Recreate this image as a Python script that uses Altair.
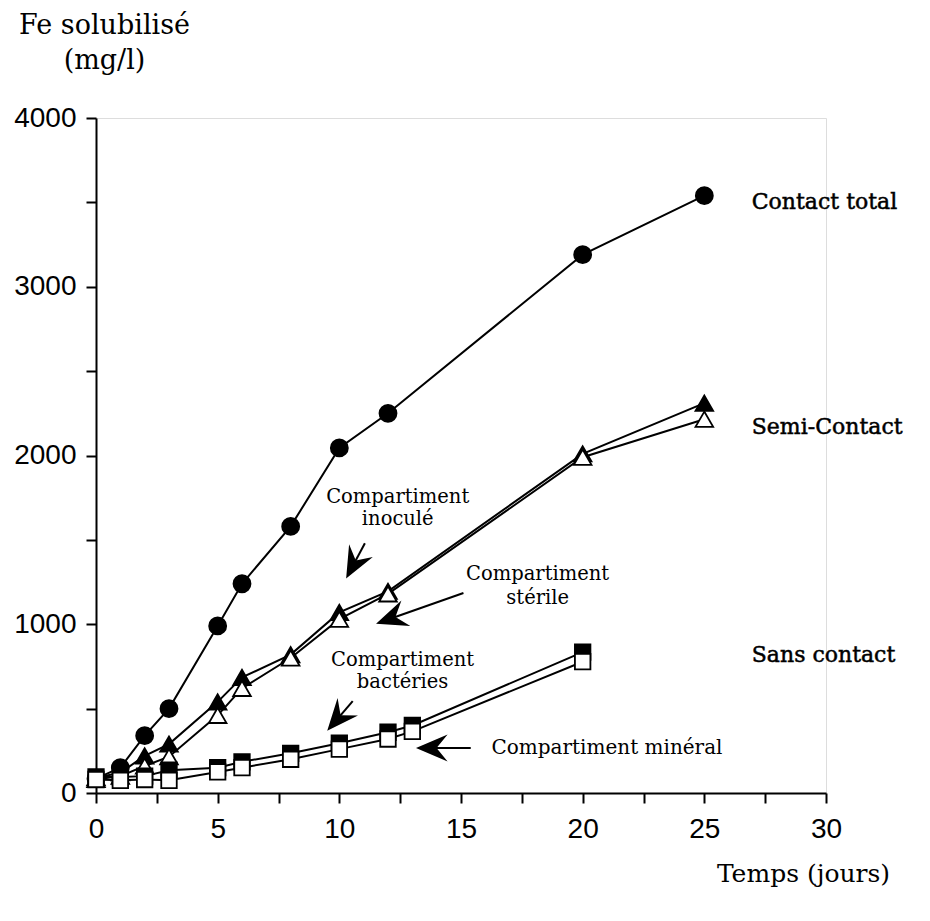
import altair as alt
import pandas as pd
import numpy as np

# ---------------- data ----------------
t_total = [0, 1, 2, 3, 5, 6, 8, 10, 12, 20, 25]
fe_total = [85, 150, 340, 500, 990, 1240, 1580, 2045, 2250, 3190, 3540]

t_semi = [0, 1, 2, 3, 5, 6, 8, 10, 12, 20, 25]
fe_inocule = [90, 120, 220, 290, 540, 685, 820, 1070, 1195, 2010, 2310]
fe_sterile = [80, 100, 160, 215, 460, 620, 800, 1030, 1180, 1990, 2215]

t_sans = [0, 1, 2, 3, 5, 6, 8, 10, 12, 13, 20]
fe_bacteries = [95, 95, 100, 135, 150, 185, 235, 295, 360, 400, 835]
fe_mineral = [80, 75, 80, 75, 125, 150, 200, 260, 320, 365, 778]

series_names = ["total", "inocule", "sterile", "bacteries", "mineral"]
series_t = [t_total, t_semi, t_semi, t_sans, t_sans]
series_fe = [fe_total, fe_inocule, fe_sterile, fe_bacteries, fe_mineral]
series_shape = ["circle", "triangle-up", "triangle-up", "square", "square"]
series_fill = ["black", "black", "white", "black", "white"]
series_size = [290, 310, 310, 240, 240]

# group labels on the right
group_labels = ["Contact total", "Semi-Contact", "Sans contact"]
group_x = [26.95, 26.95, 26.95]
group_y = [3505, 2170, 815]

# annotation texts (one row per line)
ann_text = ["Compartiment", "inoculé", "Compartiment", "stérile",
            "Compartiment", "bactéries"]
ann_x = [12.4, 12.4, 18.15, 18.15, 12.6, 12.6]
ann_y = [1755, 1625, 1295, 1155, 790, 655]
min_text = ["Compartiment minéral"]
min_x = [16.25]
min_y = [265]

# arrows: start -> tip
arr_x1 = [11.05, 15.1, 10.55, 15.4]
arr_y1 = [1480, 1185, 545, 267]
arr_x2 = [10.35, 11.65, 9.6, 13.3]
arr_y2 = [1290, 1010, 385, 267]

# ---------------- layout ----------------
W, H = 730, 675
PX_X = W / 30.0
PX_Y = H / 4000.0
HEAD_SIZE = 1000
HEAD_HALF = np.sqrt(HEAD_SIZE) / 2.6  # px from head centre to its tip

rows = []
for name, ts, vs in zip(series_names, series_t, series_fe):
    for t, v in zip(ts, vs):
        rows.append({"series": name, "t": t, "fe": v})
df = pd.DataFrame(rows)

dx = (np.array(arr_x2) - np.array(arr_x1)) * PX_X
dy = -(np.array(arr_y2) - np.array(arr_y1)) * PX_Y
ang = (np.degrees(np.arctan2(dx, -dy)) + 360) % 360
norm = np.hypot(dx, dy)
hx = np.array(arr_x2) - (dx / norm) * HEAD_HALF / PX_X
hy = np.array(arr_y2) + (dy / norm) * HEAD_HALF / PX_Y
arrows = pd.DataFrame({"x1": arr_x1, "y1": arr_y1, "x2": arr_x2,
                       "y2": arr_y2, "hx": hx, "hy": hy, "ang": ang})

xs = alt.Scale(domain=[0, 30], nice=False, zero=False)
ys = alt.Scale(domain=[0, 4000], nice=False)

serif = "DejaVu Serif"
sans = "Liberation Sans"

x_axis = alt.Axis(
    values=[i * 2.5 for i in range(13)],
    labelExpr="datum.value % 5 == 0 ? datum.label : ''",
    labelFont=sans, labelFontSize=28, labelColor="black",
    labelPadding=12, labelOverlap=False, labelFlush=False,
    tickSize=10, tickWidth=2, tickColor="black",
    domainColor="black", domainWidth=2, grid=False,
    title="Temps (jours)", titleFont=serif, titleFontSize=25,
    titleFontWeight="normal", titleColor="black",
    titleAnchor="start", titleAlign="center", titleBaseline="alphabetic",
    titleX=707, titleY=88,
)
y_axis = alt.Axis(
    values=[i * 500 for i in range(9)], format="d",
    labelExpr="datum.value % 1000 == 0 ? datum.label : ''",
    labelFont=sans, labelFontSize=28, labelColor="black",
    labelPadding=10, labelOverlap=False, labelFlush=False,
    tickSize=10, tickWidth=2, tickColor="black",
    domainColor="black", domainWidth=2, grid=False,
    title=["Fe solubilisé", "(mg/l)"], titleFont=serif, titleFontSize=27,
    titleFontWeight="normal", titleColor="black", titleAngle=0,
    titleAlign="center", titleBaseline="alphabetic", titleLineHeight=35,
    titleX=8, titleY=-85,
)

base = alt.Chart(df)

lines = base.mark_line(color="black", strokeWidth=2).encode(
    x=alt.X("t:Q", scale=xs, axis=x_axis),
    y=alt.Y("fe:Q", scale=ys, axis=y_axis),
    detail="series:N",
)

layers = [lines]
for name, shp, fil, sz in zip(series_names, series_shape, series_fill, series_size):
    layers.append(
        alt.Chart(df[df.series == name]).mark_point(
            shape=shp, filled=True, fill=fil, stroke="black", strokeWidth=1.8,
            size=sz, opacity=1, fillOpacity=1,
        ).encode(x=alt.X("t:Q", scale=xs), y=alt.Y("fe:Q", scale=ys))
    )

glab = alt.Chart(pd.DataFrame({"x": group_x, "y": group_y, "txt": group_labels})).mark_text(
    font=serif, fontSize=22, fontWeight="normal", align="left", baseline="middle", color="black",
    stroke="black", strokeWidth=0.5,
).encode(x=alt.X("x:Q", scale=xs), y=alt.Y("y:Q", scale=ys), text="txt:N")

ann = alt.Chart(pd.DataFrame({"x": ann_x, "y": ann_y, "txt": ann_text})).mark_text(
    font=serif, fontSize=19.5, align="center", baseline="middle", color="black"
).encode(x=alt.X("x:Q", scale=xs), y=alt.Y("y:Q", scale=ys), text="txt:N")

mintxt = alt.Chart(pd.DataFrame({"x": min_x, "y": min_y, "txt": min_text})).mark_text(
    font=serif, fontSize=20, align="left", baseline="middle", color="black"
).encode(x=alt.X("x:Q", scale=xs), y=alt.Y("y:Q", scale=ys), text="txt:N")

shafts = alt.Chart(arrows).mark_rule(color="black", strokeWidth=2).encode(
    x=alt.X("x1:Q", scale=xs), y=alt.Y("y1:Q", scale=ys),
    x2="hx:Q", y2="hy:Q",
)
heads = alt.Chart(arrows).mark_point(
    shape="M0,-1L0.85,1L0,0.3L-0.85,1Z", filled=True, color="black",
    size=HEAD_SIZE, opacity=1, strokeWidth=0,
).encode(
    x=alt.X("hx:Q", scale=xs), y=alt.Y("hy:Q", scale=ys),
    angle=alt.Angle("ang:Q", scale=None),
)

chart = alt.layer(*layers, shafts, heads, glab, ann, mintxt).properties(
    width=W, height=H,
    autosize=alt.AutoSizeParams(type="none"),
    padding={"left": 88, "top": 110, "right": 90, "bottom": 110},
).configure_view(stroke=None).configure(background="white")

chart.save("out.html", embed_options={"renderer": "svg", "actions": False})
